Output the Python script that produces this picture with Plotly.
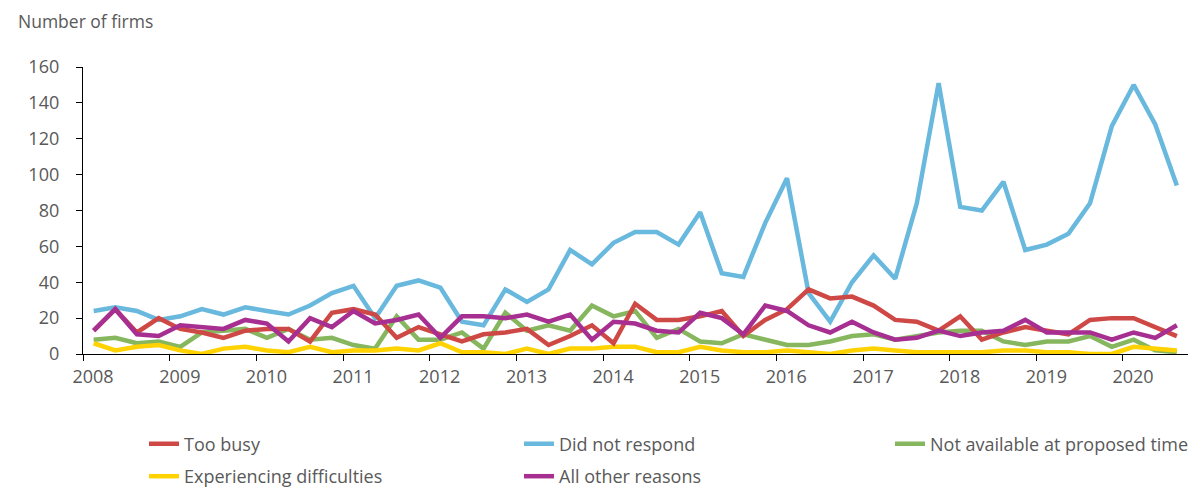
import pandas as pd
import plotly.graph_objects as go

# Quarterly periods 2008 Q1 - 2020 Q3
quarters = pd.period_range("2008Q1", "2020Q3", freq="Q")
# plot each quarter at its mid point
x_dates = [(p.start_time + (p.end_time - p.start_time) / 2).strftime("%Y-%m-%d") for p in quarters]

too_busy = [13, 25, 12, 20, 14, 12, 9, 13, 14, 14, 7, 23, 25, 22, 9, 15,
            11, 7, 11, 12, 14, 5, 10, 16, 6, 28, 19, 19, 21, 24, 10, 19,
            25, 36, 31, 32, 27, 19, 18, 13, 21, 8, 12, 15, 13, 11, 19, 20,
            20, 15, 10]
did_not_respond = [24, 26, 24, 19, 21, 25, 22, 26, 24, 22, 27, 34, 38, 20, 38, 41,
                   37, 18, 16, 36, 29, 36, 58, 50, 62, 68, 68, 61, 79, 45, 43, 73,
                   98, 34, 18, 40, 55, 42, 84, 151, 82, 80, 96, 58, 61, 67, 84, 127,
                   150, 128, 94]
not_available = [8, 9, 6, 7, 4, 12, 13, 14, 9, 14, 8, 9, 5, 3, 21, 8,
                 8, 12, 3, 23, 13, 16, 13, 27, 21, 24, 9, 14, 7, 6, 11, 8,
                 5, 5, 7, 10, 11, 8, 10, 12, 13, 13, 7, 5, 7, 7, 10, 4,
                 8, 2, 1]
difficulties = [6, 2, 4, 5, 2, 0, 3, 4, 2, 1, 4, 1, 2, 2, 3, 2,
                6, 1, 1, 0, 3, 0, 3, 3, 4, 4, 1, 1, 4, 2, 1, 1,
                2, 1, 0, 2, 3, 2, 1, 1, 1, 1, 2, 2, 1, 1, 0, 0,
                4, 3, 2]
other_reasons = [13, 25, 11, 10, 16, 15, 14, 19, 17, 7, 20, 15, 24, 17, 19, 22,
                 9, 21, 21, 20, 22, 18, 22, 8, 18, 17, 13, 12, 23, 20, 11, 27,
                 24, 16, 12, 18, 12, 8, 9, 13, 10, 12, 13, 19, 12, 12, 12, 8,
                 12, 9, 16]

series_names = ["Too busy", "Did not respond", "Not available at proposed time",
                "Experiencing difficulties", "All other reasons"]
series_values = [too_busy, did_not_respond, not_available, difficulties, other_reasons]
series_colors = ["#CE4845", "#69B8DD", "#86B75E", "#FFD200", "#A62F91"]

y_ticks = [0, 20, 40, 60, 80, 100, 120, 140, 160]

FONT = "Open Sans"
GREY = "#595959"
W, H = 1197, 487
ML, MR, MT, MB = 75, 17, 59, 141
PW, PH = W - ML - MR, H - MT - MB


def px_x(px):
    return (px - ML) / PW


def px_y(py):
    return (H - MB - py) / PH


# legend slots: (left pixel, y pixel, y anchor)
legend_slots = [(136, 436, "middle"), (511, 436, "middle"), (882, 436, "middle"),
                (136, 487, "bottom"), (511, 487, "bottom")]
legend_ids = ["legend", "legend2", "legend3", "legend4", "legend5"]

fig = go.Figure()
draw_order = [1, 2, 3, 0, 4]
for i in draw_order:
    fig.add_trace(go.Scatter(
        x=x_dates, y=series_values[i], name=series_names[i], mode="lines",
        line=dict(color=series_colors[i], width=4.5),
        legend=legend_ids[i], showlegend=True,
    ))

legend_layout = {}
for lid, (lx, ly, ya) in zip(legend_ids, legend_slots):
    legend_layout[lid] = dict(
        x=px_x(lx), xanchor="left", y=px_y(ly), yanchor=ya,
        font=dict(family=FONT, size=18, color=GREY),
        bgcolor="rgba(0,0,0,0)", visible=True,
    )

fig.update_layout(
    width=W, height=H,
    showlegend=True,
    margin=dict(l=ML, r=MR, t=MT, b=MB, autoexpand=False),
    paper_bgcolor="white", plot_bgcolor="white",
    font=dict(family=FONT, size=18, color=GREY),
    title=dict(text="Number of firms", x=10 / W, xref="container", xanchor="left",
               y=1 - 14 / H, yref="container", yanchor="middle",
               font=dict(family=FONT, size=17.5, color=GREY)),
    xaxis=dict(
        type="date", range=["2008-01-01", "2020-10-01"],
        tick0="2008-01-01", dtick="M12", tickformat="%Y",
        ticks="outside", ticklen=6, tickcolor="black", tickwidth=1.3,
        showline=True, linecolor="black", linewidth=1.3,
        showgrid=False, zeroline=False,
        ticklabelshift=10, ticklabelstandoff=0,
        tickfont=dict(family=FONT, size=18, color=GREY),
    ),
    yaxis=dict(
        range=[0, 160], tickvals=y_ticks,
        ticks="outside", ticklen=6, tickcolor="black", tickwidth=1.3,
        showline=True, linecolor="black", linewidth=1.3,
        showgrid=False, zeroline=False,
        ticklabelstandoff=13,
        tickfont=dict(family=FONT, size=18, color=GREY),
    ),
    **legend_layout,
)

fig.write_html("out.html")
